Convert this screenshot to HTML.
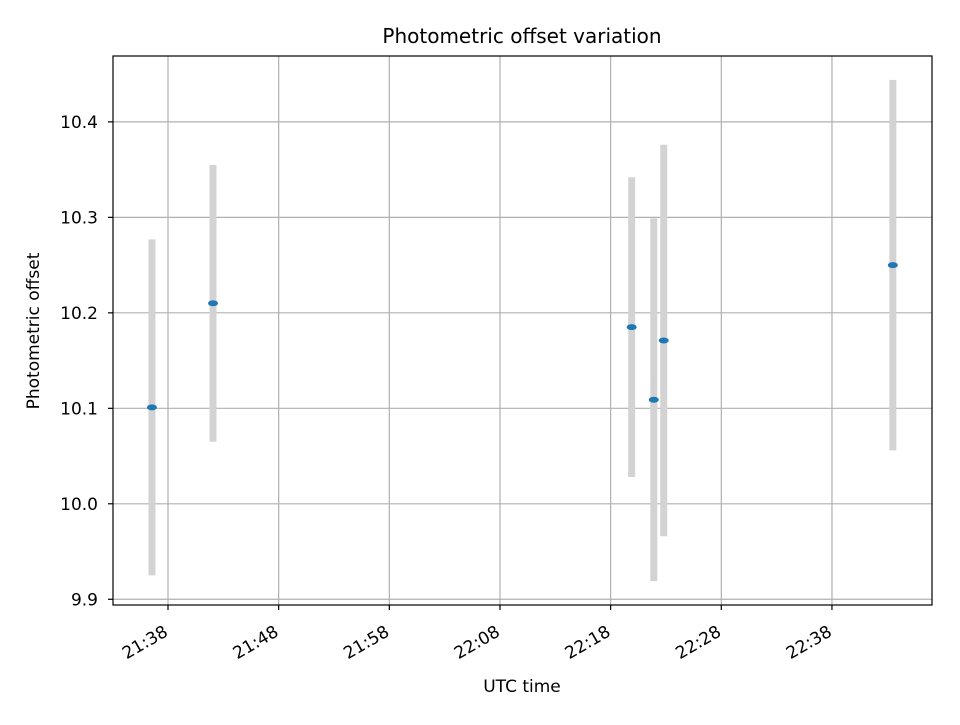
<!DOCTYPE html>
<html><head><meta charset="utf-8"><style>
body{margin:0;background:#fff;}
svg{font-family:"DejaVu Sans","Liberation Sans",sans-serif;}
</style></head><body>
<svg id="chart" width="960" height="720">
<rect width="960" height="720" fill="#fff"/>
<text x="522" y="43" font-size="20" text-anchor="middle">Photometric offset variation</text>
<g id="grid"></g>
<g id="bars"></g>
<g id="points"></g>
<rect x="113" y="56" width="819" height="549" fill="none" stroke="#000" stroke-width="1.2"/>
<g id="xticks"></g>
<g id="yticks"></g>
<text x="522" y="692" font-size="17" text-anchor="middle">UTC time</text>
<text transform="translate(39,331) rotate(-90)" font-size="17" text-anchor="middle">Photometric offset</text>
</svg>
<script>
const times = ["21:36.55","21:42.07","22:19.9","22:21.9","22:22.8","22:43.5"];
const offsets = [10.101,10.210,10.185,10.109,10.171,10.250];
const errors = [0.176,0.145,0.157,0.19,0.205,0.194];
const xTickLabels = ["21:38","21:48","21:58","22:08","22:18","22:28","22:38"];
const yTickValues = [9.9,10.0,10.1,10.2,10.3,10.4];

const NS="http://www.w3.org/2000/svg";
function toMin(s){const [h,m]=s.split(":");return (+h)*60+parseFloat(m);}
const X0=113,X1=932,Y0=56,Y1=605;
const xMin=toMin("21:33.03"),xMax=toMin("22:47.04");
const yMin=9.894,yMax=10.469;
function xs(t){return X0+(toMin(t)-xMin)/(xMax-xMin)*(X1-X0);}
function ys(v){return Y1-(v-yMin)/(yMax-yMin)*(Y1-Y0);}
function el(tag,attrs,parent){const e=document.createElementNS(NS,tag);for(const k in attrs)e.setAttribute(k,attrs[k]);document.getElementById(parent).appendChild(e);return e;}

xTickLabels.forEach(l=>{
  const x=xs(l);
  const g=el("line",{x1:x,x2:x,y1:Y0,y2:Y1,stroke:"#b0b0b0","stroke-width":1.2},"grid");
  
  
  const t=el("line",{x1:x,x2:x,y1:Y1,y2:Y1+5,stroke:"#000","stroke-width":1.2},"xticks");
  
  
  const tx=el("text",{transform:`translate(${x+1},${Y1+30}) rotate(-30)`,"font-size":17,"text-anchor":"end"},"xticks");
  tx.textContent=l;
  
  
});
yTickValues.forEach(v=>{
  const y=ys(v);
  const g=el("line",{x1:X0,x2:X1,y1:y,y2:y,stroke:"#b0b0b0","stroke-width":1.2},"grid");
  
  
  const t=el("line",{x1:X0-5,x2:X0,y1:y,y2:y,stroke:"#000","stroke-width":1.2},"yticks");
  
  
  const tx=el("text",{x:X0-15,y:y+6,"font-size":17,"text-anchor":"end"},"yticks");
  tx.textContent=v.toFixed(1);
  
  
});
times.forEach((t,i)=>{
  const x=xs(t);
  const b=el("line",{x1:x,x2:x,y1:ys(offsets[i]+errors[i]),y2:ys(offsets[i]-errors[i]),stroke:"#d3d3d3","stroke-width":7},"bars");
  
  
  const p=el("ellipse",{cx:x,cy:ys(offsets[i]),rx:5,ry:3,fill:"#1f77b4"},"points");
  
  
});
</script>
</body></html>
